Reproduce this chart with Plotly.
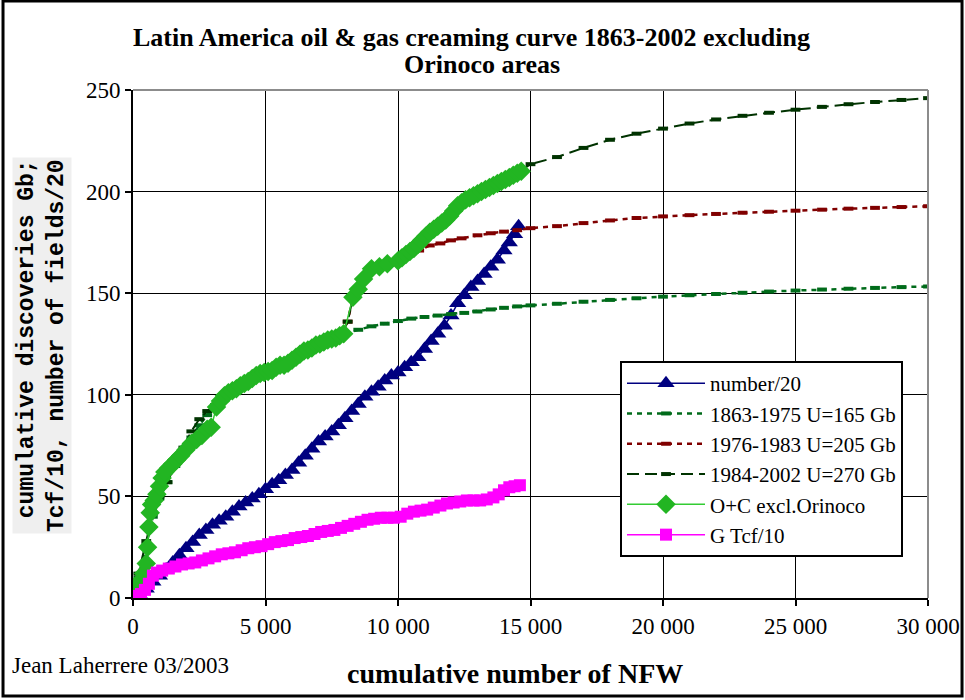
import plotly.graph_objects as go

# cumulative number of new-field wildcats (NFW) and cumulative discoveries
num_x = [0, 250, 500, 750, 1000, 1250, 1500, 1750, 2000, 2250, 2500, 2750, 3000, 3250,
         3500, 3750, 4000, 4250, 4500, 4750, 5000, 5250, 5500, 5750, 6000, 6250, 6500,
         6750, 7000, 7250, 7500, 7750, 8000, 8250, 8500, 8750, 9000, 9250, 9500, 9750,
         10000, 10250, 10500, 10750, 11000, 11250, 11500, 11750, 12000, 12250, 12500,
         12750, 13000, 13250, 13500, 13750, 14000, 14200, 14400, 14550]
num_y = [0, 1.5, 4.5, 8, 11, 14, 17.5, 21, 24.5, 27.5, 31, 33.5, 36, 38, 40, 42.5, 45, 47,
         49, 51, 53.5, 56, 58, 60.5, 63, 66.5, 70, 73.5, 77, 79.5, 82, 85, 88.5, 92, 95.5,
         99, 101.5, 104, 107, 109.5, 111, 113.5, 116, 118.5, 122.5, 126.5, 130, 134, 139,
         145, 149, 153, 156, 159.5, 163, 166.5, 171, 175, 179, 183]

fit1_x = [0, 200, 500, 750, 1000, 1300, 1600, 1900, 2200, 2500, 2800, 3100, 3500, 4000,
          4500, 5000, 5500, 6000, 6500, 7000, 7500, 7900, 8500, 9000, 9500, 10000, 10500,
          11000, 11500, 12000, 12500, 13000, 13500, 14000, 14500, 15000, 16000, 17000,
          18000, 19000, 20000, 21000, 22000, 23000, 24000, 25000, 26000, 27000, 28000,
          29000, 30000]
fit1_y = [0, 10, 26, 40, 49, 57, 65, 72, 79, 85, 90, 94, 99, 103.5, 107.5, 111, 114, 118,
          121.5, 124.5, 127.5, 129.5, 132, 133.7, 135, 136.3, 137.5, 138.3, 139, 139.7,
          140.3, 141, 142, 142.8, 143.5, 144, 144.8, 145.8, 146.7, 147.5, 148.3, 149,
          149.6, 150.2, 150.8, 151.3, 151.8, 152.2, 152.6, 153, 153.3]

fit2_x = [7900, 8100, 8300, 8700, 9000, 9500, 10000, 10500, 10800, 11200, 11600, 12000,
          12400, 13000, 13500, 14000, 14500, 15000, 16000, 17000, 18000, 19000, 20000,
          21000, 22000, 23000, 24000, 25000, 26000, 27000, 28000, 29000, 30000]
fit2_y = [130, 136, 148, 157, 162, 164, 166.5, 169.5, 171, 173.5, 174.5, 176, 177, 178.5,
          179.5, 180.3, 181, 182, 183, 184.5, 185.8, 187, 187.8, 188.4, 189, 189.6, 190.1,
          190.6, 191.1, 191.6, 192, 192.4, 192.8]

fit3_x = [0, 200, 500, 750, 1000, 1300, 1600, 1900, 2200, 2500, 2800, 3100, 3500, 4000,
          4500, 5000, 5500, 6000, 6500, 7000, 7500, 7900, 8100, 8300, 8700, 9000, 9500,
          10000, 10500, 11000, 11500, 12000, 12500, 13000, 13500, 14000, 14600, 15000,
          16000, 17000, 18000, 19000, 20000, 21000, 22000, 23000, 24000, 25000, 26000,
          27000, 28000, 29000, 30000]
fit3_y = [0, 12, 28, 42, 50, 57, 66, 74, 82, 88, 92, 95, 99, 104, 108, 111, 114.5, 118.5,
          122, 125, 128, 130, 136, 148, 157, 162, 164, 167, 170, 176, 183, 190, 196, 200,
          203.5, 206.5, 210, 213.5, 217, 221.5, 225.5, 228.5, 231, 233.5, 235.5, 237.3,
          238.8, 240.3, 241.7, 243, 244.1, 245.1, 246]

oc_x = [0, 100, 250, 400, 500, 550, 600, 650, 700, 800, 900, 1000, 1100, 1200, 1350,
        1500, 1650, 1800, 2000, 2200, 2400, 2600, 2800, 2950, 3150, 3300, 3450, 3600,
        3750, 3900, 4050, 4200, 4350, 4500, 4650, 4800, 4950, 5100, 5250, 5400, 5550,
        5700, 5850, 6000, 6150, 6300, 6450, 6600, 6750, 6900, 7050, 7200, 7350, 7500,
        7650, 7800, 7950, 8300, 8500, 8700, 9000, 9300, 9600, 10000, 10150, 10300, 10450,
        10600, 10750, 10900, 11050, 11200, 11350, 11500, 11650, 11800, 11950, 12100,
        12250, 12400, 12550, 12700, 12850, 13000, 13150, 13300, 13450, 13600, 13750,
        13900, 14050, 14200, 14350, 14500, 14650]
oc_y = [0, 4, 8, 12, 17, 25, 35, 42, 46, 48, 51, 55, 59, 62, 64, 66, 68, 70, 73, 76, 78,
        80, 83, 84, 94, 97, 99.5, 101, 102, 103, 104.5, 105.5, 106.5, 108, 109.5, 110.5,
        111, 111.5, 112, 113.5, 114.5, 114.5, 115.5, 117, 118.5, 120, 121.5, 122, 123,
        124.5, 125, 126, 127, 127.5, 128, 129, 130, 148, 152, 157, 162, 163, 164.5, 166,
        167.5, 169, 170.5, 172, 174, 176, 178, 180, 181.5, 183, 184.5, 186, 188, 190.5,
        193, 194.5, 196, 197, 198, 199, 200, 201, 202, 203, 204, 205, 206, 207, 208, 209,
        210]

gas_x = [0, 150, 300, 450, 600, 750, 900, 1100, 1350, 1600, 1850, 2100, 2350, 2600, 2850,
         3100, 3350, 3600, 3850, 4100, 4350, 4600, 4850, 5100, 5350, 5600, 5850, 6100,
         6350, 6600, 6850, 7100, 7350, 7600, 7850, 8100, 8350, 8600, 8850, 9100, 9350,
         9600, 9850, 10100, 10350, 10600, 10850, 11100, 11350, 11600, 11850, 12100, 12350,
         12600, 12850, 13100, 13350, 13600, 13800, 14000, 14200, 14400, 14600]
gas_y = [0, 1, 2, 4, 7, 11, 12.5, 13.5, 14.5, 15.5, 16.5, 17, 17.5, 18.5, 19.5, 20.5,
         21.5, 22, 22.5, 23.5, 24.5, 25, 25.5, 26.5, 27.5, 28, 28.5, 29.5, 30, 30.5, 31.5,
         32.5, 33, 33.5, 34.5, 35.5, 36.5, 37.5, 38.5, 39, 39.5, 39.5, 39.5, 40, 41.5, 42.5,
         43, 43.5, 44.5, 45.5, 46.5, 47, 47.5, 48, 48, 48, 48.5, 49.5, 51, 53, 54.5, 55,
         55.5]

x_ticks = [0, 5000, 10000, 15000, 20000, 25000, 30000]
y_ticks = [0, 50, 100, 150, 200, 250]

SERIF = "Liberation Serif"

fig = go.Figure()

fig.add_trace(go.Scatter(
    x=num_x, y=num_y, name="number/20", mode="lines+markers",
    line=dict(color="#000080", width=1.5),
    marker=dict(symbol="triangle-up", size=15, color="#000080")))

fig.add_trace(go.Scatter(
    x=fit1_x, y=fit1_y, name="1863-1975 U=165 Gb", mode="lines+markers",
    line=dict(color="#006B1A", width=2.5, dash="5px,5px"),
    marker=dict(symbol="line-ew", size=7, color="#006B1A",
                line=dict(color="#006B1A", width=4))))

fig.add_trace(go.Scatter(
    x=fit2_x, y=fit2_y, name="1976-1983 U=205 Gb", mode="lines+markers",
    line=dict(color="#800000", width=2.5, dash="5px,5px"),
    marker=dict(symbol="line-ew", size=7, color="#800000",
                line=dict(color="#800000", width=4))))

fig.add_trace(go.Scatter(
    x=fit3_x, y=fit3_y, name="1984-2002 U=270 Gb", mode="lines+markers",
    line=dict(color="#003300", width=2, dash="12px,6px"),
    marker=dict(symbol="line-ew", size=7, color="#003300",
                line=dict(color="#003300", width=4))))

fig.add_trace(go.Scatter(
    x=oc_x, y=oc_y, name="O+C excl.Orinoco", mode="lines+markers",
    line=dict(color="#33CC33", width=1.5),
    marker=dict(symbol="diamond", size=15, color="#22B522")))

fig.add_trace(go.Scatter(
    x=gas_x, y=gas_y, name="G Tcf/10", mode="lines+markers",
    line=dict(color="#FF00FF", width=1.5),
    marker=dict(symbol="square", size=12, color="#FF00FF")))

axis_common = dict(
    showgrid=True, gridcolor="black", gridwidth=1,
    showline=True, linecolor="black", linewidth=2,
    ticks="outside", ticklen=6, tickwidth=2, tickcolor="black",
    zeroline=False, automargin=False,
    tickfont=dict(family=SERIF, size=23, color="black"),
)

fig.update_xaxes(range=[0, 30000], tickvals=x_ticks, tickformat=",d", **axis_common)
fig.update_yaxes(range=[0, 250], tickvals=y_ticks, **axis_common)

shapes = [
    # grey frame on the top and right of the plot area
    dict(type="line", xref="paper", yref="paper", x0=0, y0=1, x1=1, y1=1,
         line=dict(color="#8C8C8C", width=2)),
    dict(type="line", xref="paper", yref="paper", x0=1, y0=0, x1=1, y1=1,
         line=dict(color="#8C8C8C", width=2)),
    # outer border of the chart
    dict(type="rect", xref="paper", yref="paper", x0=-0.1635, y0=-0.1929,
         x1=1.0428, y1=1.1752, line=dict(color="black", width=3)),
]

annotations = [
    dict(text="<b>Latin America oil &amp; gas creaming curve 1863-2002 excluding</b>",
         xref="paper", yref="paper", x=(471 - 133) / 795, y=(598 - 38) / 508,
         xanchor="center", yanchor="middle", showarrow=False,
         font=dict(family=SERIF, size=26, color="black")),
    dict(text="<b>Orinoco areas</b>",
         xref="paper", yref="paper", x=(482 - 133) / 795, y=(598 - 64) / 508,
         xanchor="center", yanchor="middle", showarrow=False,
         font=dict(family=SERIF, size=26, color="black")),
    dict(text="<b>cumulative discoveries Gb;</b><br><b>Tcf/10, number of fields/20</b>",
         xref="paper", yref="paper", x=(42 - 133) / 795, y=(598 - 346) / 508,
         xanchor="center", yanchor="middle", showarrow=False, textangle=-90,
         align="right", bgcolor="#EFEFEF",
         font=dict(family="Liberation Mono", size=23, color="black")),
    dict(text="<b>cumulative number of NFW</b>",
         xref="paper", yref="paper", x=(515 - 133) / 795, y=(598 - 673) / 508,
         xanchor="center", yanchor="middle", showarrow=False,
         font=dict(family=SERIF, size=28, color="black")),
    dict(text="Jean Laherrere 03/2003",
         xref="paper", yref="paper", x=(10 - 133) / 795, y=(598 - 665) / 508,
         xanchor="left", yanchor="middle", showarrow=False,
         font=dict(family=SERIF, size=23, color="black")),
]

fig.update_layout(
    width=965, height=700,
    margin=dict(l=133, r=37, t=90, b=102, autoexpand=False),
    paper_bgcolor="white", plot_bgcolor="white",
    separators=". ",
    font=dict(family=SERIF, color="black"),
    showlegend=True,
    legend=dict(x=(620 - 133) / 795, y=(598 - 361) / 508, xanchor="left", yanchor="top",
                bgcolor="white", bordercolor="black", borderwidth=2,
                font=dict(family=SERIF, size=21, color="black"),
                itemwidth=78, tracegroupgap=0),
    shapes=shapes,
    annotations=annotations,
)

fig.write_html("out.html")
